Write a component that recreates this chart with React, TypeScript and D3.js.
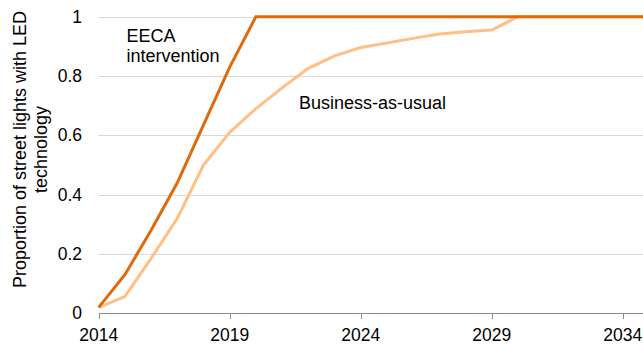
import React from "react";
import * as d3 from "d3";

const years = d3.range(2014, 2036);
const eecaValues = [0.02, 0.13, 0.28, 0.44, 0.635, 0.83, 1, 1, 1, 1, 1, 1, 1, 1, 1, 1, 1, 1, 1, 1, 1, 1];
const bauValues = [0.02, 0.056, 0.185, 0.32, 0.5, 0.61, 0.69, 0.76, 0.826, 0.868, 0.896, 0.911, 0.927, 0.942, 0.949, 0.955, 1, 1, 1, 1, 1, 1];
const xTicks = [2014, 2019, 2024, 2029, 2034];
const yTicks = [0, 0.2, 0.4, 0.6, 0.8, 1];

const W = 643;
const H = 345;
const FONT = "'Liberation Sans', Arial, sans-serif";

export default function App() {
  const x = d3.scaleLinear().domain([2014, 2034]).range([98.7, 622.7]);
  const y = d3.scaleLinear().domain([0, 1]).range([313.3, 16.7]);
  const line = d3
    .line<number>()
    .x((_, i) => x(years[i]))
    .y((d) => y(d));

  return (
    <svg width={W} height={H} style={{ position: "absolute", left: 0, top: 0, background: "#fff" }} fontFamily={FONT}>
      {yTicks.filter((t) => t > 0).map((t) => (
        <line key={t} x1={x(2014)} x2={W} y1={Math.round(y(t)) + 0.5} y2={Math.round(y(t)) + 0.5} stroke="#d9d9d9" strokeWidth={1} />
      ))}
      {yTicks.map((t) => (
        <text key={t} x={82} y={y(t)} dy="0.35em" textAnchor="end" fontSize={17.5} fill="#000">
          {d3.format("~g")(t)}
        </text>
      ))}
      <line x1={x(2014)} x2={W} y1={313.5} y2={313.5} stroke="#8c8c8c" strokeWidth={1} />
      {xTicks.map((t) => (
        <g key={t}>
          <line x1={Math.round(x(t)) + 0.5} x2={Math.round(x(t)) + 0.5} y1={313.5} y2={319} stroke="#8c8c8c" strokeWidth={1} />
          <text x={x(t)} y={341} textAnchor="middle" fontSize={17.5} fill="#000">
            {t}
          </text>
        </g>
      ))}
      <path d={line(bauValues) || ""} fill="none" stroke="#FFBF87" strokeWidth={3} strokeLinejoin="round" />
      <path d={line(eecaValues) || ""} fill="none" stroke="#DE6A0B" strokeWidth={3} strokeLinejoin="miter" />
      <text x={126.5} y={41.7} fontSize={18} fill="#000">EECA</text>
      <text x={126.5} y={61.7} fontSize={18} fill="#000">intervention</text>
      <text x={299} y={109} fontSize={18} fill="#000">Business-as-usual</text>
      <g transform="translate(0,149.5) rotate(-90)">
        <text x={0} y={26} textAnchor="middle" fontSize={18} fill="#000">Proportion of street lights with LED</text>
        <text x={0} y={46.5} textAnchor="middle" fontSize={18} fill="#000">technology</text>
      </g>
    </svg>
  );
}
